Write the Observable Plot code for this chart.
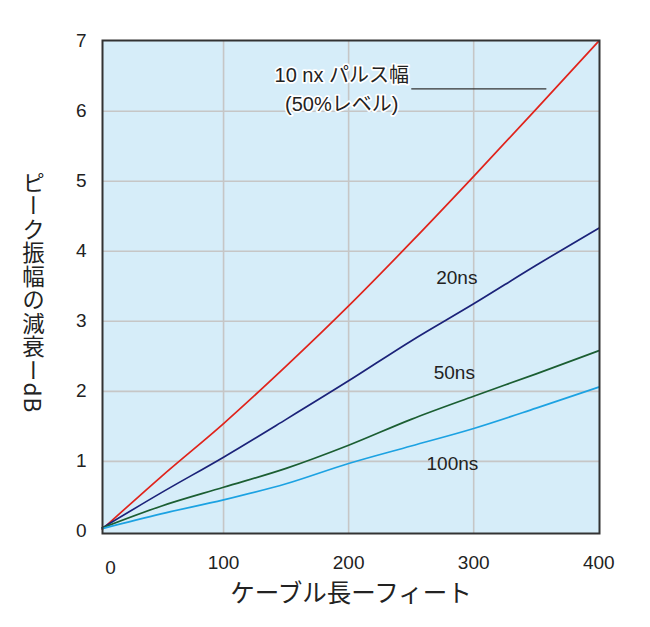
<!DOCTYPE html>
<html>
<head>
<meta charset="utf-8">
<script src="https://cdn.jsdelivr.net/npm/d3@7"></script>
<script src="https://cdn.jsdelivr.net/npm/@observablehq/plot@0.6"></script>
<style>
  html, body { margin: 0; padding: 0; background: #fff; }
  #chart svg { display: block; }
</style>
</head>
<body>
<div id="chart"></div>
<script>
// Cable length (feet)
const cableLength = [3, 50, 100, 150, 200, 250, 300, 350, 400];
// Peak amplitude attenuation (dB) per pulse width
const pulse10ns  = [0.03, 0.78, 1.54, 2.36, 3.22, 4.13, 5.07, 6.03, 7.00];
const pulse20ns  = [0.05, 0.55, 1.06, 1.60, 2.15, 2.72, 3.25, 3.80, 4.33];
const pulse50ns  = [0.05, 0.36, 0.63, 0.90, 1.23, 1.60, 1.93, 2.25, 2.58];
const pulse100ns = [0.04, 0.25, 0.45, 0.68, 0.97, 1.22, 1.47, 1.76, 2.06];

const seriesNames = ["10ns", "20ns", "50ns", "100ns"];
const seriesValues = [pulse10ns, pulse20ns, pulse50ns, pulse100ns];
const seriesColors = ["#e0231b", "#1b2279", "#1b5e32", "#1ca2e2"];

const xTicks = [0, 100, 200, 300, 400];
const yTicks = [0, 1, 2, 3, 4, 5, 6, 7];
const xGrid = [100, 200, 300];
const yGrid = [1, 2, 3, 4, 5, 6];

const xLabel = "ケーブル長ーフィート";
const yLabel = "ピーク振幅の減衰ーdB";
const titleLabel = "10 nx パルス幅\n(50%レベル)";

// in-plot label anchors (data units)
const seriesLabels = [
  {text: "20ns", x: 286.5, y: 3.62},
  {text: "50ns", x: 284.5, y: 2.26},
  {text: "100ns", x: 283, y: 0.97}
];
const titleAnchor = {x: 194.5, y: 6.34};
const leader = [{x1: 250.5, x2: 358.5, y: 6.32}];

const rows = [];
seriesNames.forEach((name, i) => {
  cableLength.forEach((len, j) => rows.push({series: name, x: len, y: seriesValues[i][j]}));
});

const font = "'Liberation Sans', Arial, 'Noto Sans CJK JP', sans-serif";

const chart = Plot.plot({
  width: 650,
  height: 627,
  marginLeft: 102,
  marginRight: 51,
  marginTop: 40,
  marginBottom: 94,
  style: {fontFamily: font, background: "#fff", color: "#222"},
  x: {domain: [3.2, 400.6]},
  y: {domain: [-0.03, 7.01]},
  color: {domain: seriesNames, range: seriesColors},
  marks: [
    Plot.frame({fill: "#d6edf9", stroke: null}),
    Plot.gridX(xGrid, {stroke: "#c6c6c6", strokeOpacity: 1, strokeWidth: 1.6}),
    Plot.gridY(yGrid, {stroke: "#c6c6c6", strokeOpacity: 1, strokeWidth: 1.6}),
    Plot.line(rows, {x: "x", y: "y", z: "series", stroke: "series", strokeWidth: 1.7, curve: "monotone-x"}),
    Plot.ruleY(leader, {x1: "x1", x2: "x2", y: "y", stroke: "#333", strokeWidth: 1.3}),
    Plot.text([titleAnchor], {x: "x", y: "y", text: () => titleLabel, fontSize: 20, lineHeight: 1.45, fill: "#222", stroke: "#fff", strokeWidth: 3.5, paintOrder: "stroke"}),
    Plot.text(seriesLabels, {x: "x", y: "y", text: "text", fontSize: 19, fill: "#222"}),
    Plot.frame({stroke: "#333", strokeWidth: 2}),
    Plot.axisY(yTicks, {tickSize: 0, tickPadding: 16, fontSize: 19, label: null, fill: "#222", tickFormat: d => String(d)}),
    Plot.axisX(xTicks.filter(d => d > 0), {tickSize: 0, tickPadding: 22, fontSize: 19, label: null, fill: "#222", tickFormat: d => String(d)}),
    Plot.text(xTicks.filter(d => d === 0), {x: () => 3.2, y: () => -0.03, text: d => String(d), dx: 8, dy: 34, fontSize: 19, fill: "#222"}),
    Plot.text([xLabel], {frameAnchor: "bottom", dy: 68, text: d => d, fontSize: 24.5, fill: "#222", fontFamily: "'Noto Sans CJK JP', sans-serif"}),
    Plot.text([yLabel], {frameAnchor: "left", textAnchor: "middle", dx: -69, dy: -2, text: d => d, fontSize: 22.5, fill: "#222", fontFamily: "'Noto Sans CJK JP', sans-serif"})
  ]
});

// vertical writing for the y label
d3.select(chart).selectAll("text").filter(function() { return this.textContent === yLabel; })
  .style("writing-mode", "vertical-rl")
  .style("text-orientation", "mixed")
  .style("letter-spacing", "1px")
  .attr("dy", null);

document.getElementById("chart").appendChild(chart);
</script>
</body>
</html>
